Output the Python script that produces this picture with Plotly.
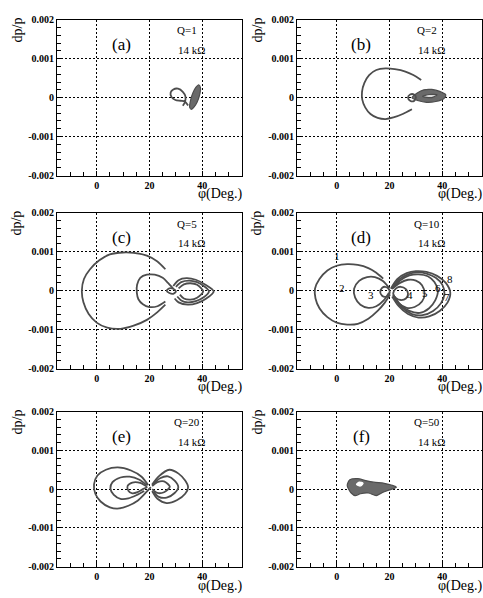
import plotly.graph_objects as go

# ---------------------------------------------------------------------------
# Page geometry (pixels) for the 3 x 2 grid of phase-space panels
# ---------------------------------------------------------------------------
W, H = 483, 598
COLS = [(57, 242), (297, 482)]
ROWS = [(14, 173), (211, 370), (414, 572)]

PANEL_TAGS = ["(a)", "(b)", "(c)", "(d)", "(e)", "(f)"]
Q_VALUES = [1, 2, 5, 10, 20, 50]
RES_TEXT = "14 kΩ"

X_RANGE = [-15, 55]
Y_RANGE = [-0.002, 0.002]
X_TICKS = [0, 20, 40]
Y_TICKS = [-0.002, -0.001, 0, 0.001, 0.002]
Y_TICK_TEXT = ["-0.002", "-0.001", "0", "0.001", "0.002"]

MILLI = 1e-3  # trajectory points below are (phi [deg], dp/p [x 1e-3])

# --- (a) Q = 1 ------------------------------------------------------------
A_LOOP = [(34.6, -0.20), (33.4, -0.10), (31.8, -0.08), (29.8, -0.06), (28.3, 0.02),
          (28.0, 0.13), (29.0, 0.21), (30.8, 0.23), (32.6, 0.15), (33.6, 0.03),
          (33.4, -0.12), (32.6, -0.21)]
A_STREAK = [(35.2, -0.25), (35.6, -0.05), (36.4, 0.12), (37.6, 0.27), (38.6, 0.33),
            (39.3, 0.25), (38.9, 0.05), (38.0, -0.12), (36.9, -0.24), (35.9, -0.30),
            (35.2, -0.25)]

# --- (b) Q = 2 ------------------------------------------------------------
B_OUTER = [(32, 0.45), (29, 0.58), (26, 0.67), (22, 0.73), (18.5, 0.75), (15, 0.71),
           (12.3, 0.58), (10.5, 0.38), (9.6, 0.15), (9.7, -0.05), (10.8, -0.25),
           (12.8, -0.42), (15.5, -0.52), (18.5, -0.55), (21.5, -0.51), (25, -0.42),
           (28.5, -0.30)]
B_CORE = [(28.5, 0.0), (30.5, 0.12), (33, 0.20), (36, 0.21), (39, 0.16), (41.3, 0.07),
          (40.5, -0.03), (37.5, -0.10), (34, -0.12), (31, -0.08), (28.5, 0.0)]
B_HOLE = [(32.5, 0.03), (35, 0.08), (38, 0.07), (36, 0.0), (32.5, 0.03)]
B_SMALL = [(27, 0.0), (27.8, 0.08), (29.3, 0.08), (30, 0.0), (29.2, -0.09),
           (27.8, -0.08), (27, 0.0)]

# --- (c) Q = 5 ------------------------------------------------------------
C_OUTER = [(26, 0.55), (23, 0.75), (19, 0.90), (14, 0.97), (10, 0.98), (5, 0.93),
           (1, 0.78), (-2.5, 0.55), (-4.8, 0.30), (-5.6, 0.0), (-5, -0.30),
           (-3, -0.60), (0, -0.82), (4, -0.95), (9, -0.98), (14, -0.90), (19, -0.75),
           (23, -0.55), (26, -0.36)]
C_INNER = [(29, 0.05), (27, 0.20), (25, 0.33), (22, 0.41), (19, 0.41), (16.5, 0.33),
           (15.3, 0.15), (15.2, -0.05), (15.8, -0.22), (17.5, -0.35), (20, -0.42),
           (23, -0.40), (26, -0.28)]
C_CHEV1 = [(29, 0.12), (31, 0.27), (34, 0.32), (37.5, 0.28), (41, 0.16), (44.3, -0.02),
           (41.5, -0.20), (38, -0.32), (34.5, -0.36), (31, -0.30), (29.5, -0.20)]
C_CHEV2 = [(30, 0.10), (32, 0.22), (35, 0.26), (38, 0.22), (40.5, 0.12), (42.5, -0.02),
           (40.5, -0.17), (37.5, -0.27), (34.5, -0.30), (32, -0.25), (30.5, -0.15)]
C_CHEV3 = [(31, 0.06), (33, 0.16), (35.5, 0.19), (38, 0.15), (40.3, -0.02), (38, -0.18),
           (35.5, -0.23), (33, -0.20), (31.5, -0.10)]
C_SMALL = [(26.5, 0.0), (27.5, 0.06), (29, 0.05), (30, -0.02), (29, -0.08),
           (27.5, -0.06), (26.5, 0.0)]

# --- (d) Q = 10 -----------------------------------------------------------
D_LEFT1 = [(17.6, 0.31), (15, 0.46), (12, 0.58), (8, 0.66), (4, 0.68), (0, 0.64),
           (-3.5, 0.52), (-6.5, 0.30), (-8.2, 0.05), (-8, -0.20), (-6.5, -0.45),
           (-3.5, -0.68), (0, -0.82), (4, -0.87), (8, -0.85), (12, -0.72),
           (15.5, -0.52), (18.3, -0.30), (20.2, -0.10)]
D_LEFT2 = [(20, 0.06), (17.5, 0.25), (14.5, 0.35), (11.5, 0.35), (8.5, 0.25),
           (6.6, 0.05), (7, -0.18), (9, -0.36), (12, -0.44), (15, -0.40),
           (17.8, -0.25), (19.8, -0.05)]
D_LOOP3 = [(16.5, -0.04), (17.2, 0.07), (18.3, 0.10), (19.5, 0.06), (20.1, -0.04),
           (19.5, -0.13), (18.3, -0.16), (17.2, -0.13), (16.5, -0.04)]
D_LOOP4 = [(21.4, -0.07), (22.5, 0.06), (24.3, 0.10), (26.2, 0.04), (27, -0.08),
           (26.2, -0.20), (24.3, -0.24), (22.5, -0.19), (21.4, -0.07)]
D_RIGHT5 = [(21, 0.05), (24, 0.20), (27, 0.28), (30, 0.26), (32.3, 0.14), (33.3, -0.08),
            (32.3, -0.28), (29.5, -0.42), (26.5, -0.44), (23.5, -0.32), (21.3, -0.10)]
D_RIGHT6 = [(21, 0.05), (24, 0.26), (27.5, 0.39), (31, 0.42), (34.5, 0.37), (37, 0.22),
            (38.3, 0.0), (37.3, -0.25), (35, -0.45), (31.5, -0.57), (27.5, -0.52),
            (24, -0.35), (21.5, -0.12)]
D_RIGHT7 = [(20.8, 0.05), (23.5, 0.28), (27, 0.42), (30.5, 0.47), (34, 0.44),
            (37.5, 0.33), (40, 0.15), (40.8, -0.08), (39.5, -0.32), (36.5, -0.52),
            (32.5, -0.63), (28.5, -0.60), (24.5, -0.42), (21.5, -0.15)]
D_RIGHT8 = [(20.5, 0.05), (23, 0.30), (26.5, 0.45), (30, 0.50), (34, 0.48), (38, 0.38),
            (41.3, 0.20), (43, -0.05), (42, -0.30), (39, -0.52), (35, -0.66),
            (31, -0.69), (27, -0.60), (23.5, -0.40), (21, -0.15)]
D_NUMBERS = ["1", "2", "3", "4", "5", "6", "7", "8"]
D_NUMBER_AT = [(0.2, 0.90), (2.0, 0.075), (13.0, -0.11), (27.6, -0.11),
               (33.3, -0.07), (38.5, 0.075), (41.6, -0.17), (42.9, 0.31)]

# --- (e) Q = 20 -----------------------------------------------------------
E_LEFT1 = [(19.5, 0.10), (17, 0.32), (13, 0.48), (8, 0.56), (3.5, 0.50), (0.3, 0.35),
           (-1, 0.12), (-0.5, -0.12), (1.5, -0.32), (5, -0.47), (8.5, -0.50),
           (12, -0.43), (15.5, -0.30), (18.5, -0.10), (20.5, 0.05)]
E_RIGHT1 = [(21, 0.12), (23.5, 0.33), (27.5, 0.50), (31, 0.40), (33.5, 0.22),
            (34.6, 0.05), (33.5, -0.12), (30.5, -0.28), (26.5, -0.36), (23, -0.25),
            (21, -0.05)]
E_LEFT2 = [(19, 0.10), (16, 0.25), (12.5, 0.32), (9, 0.30), (6, 0.18), (5.2, 0.02),
           (6.5, -0.15), (9, -0.25), (12, -0.24), (15, -0.16), (18, -0.05)]
E_RIGHT2 = [(21, 0.10), (24, 0.28), (27, 0.33), (29.5, 0.22), (30.9, 0.05),
            (29.5, -0.10), (26.5, -0.22), (23.5, -0.20), (21.5, -0.06)]
E_RIGHT3 = [(21, 0.08), (23, 0.18), (25.5, 0.20), (27.7, 0.06), (25.5, -0.08),
            (23, -0.10), (21, 0.0)]
E_LEFT3 = [(19, 0.05), (16.5, 0.16), (13.5, 0.17), (11.7, 0.08), (12, -0.04),
           (13.5, -0.11), (15.5, -0.08), (17.5, 0.0), (19, 0.05)]

# --- (f) Q = 50 -----------------------------------------------------------
F_BODY = [(4, 0.10), (5, 0.24), (8, 0.27), (11, 0.22), (14, 0.18), (18, 0.15),
          (21, 0.10), (22.6, 0.05), (20, -0.02), (17, -0.10), (15, -0.17), (12, -0.10),
          (9, -0.12), (7, -0.17), (5.5, -0.10), (4.5, 0.0), (4, 0.10)]
F_HOLE = [(7.5, 0.12), (8.5, 0.18), (10, 0.15), (9, 0.08), (7.5, 0.12)]

# curves drawn as lines / filled patches in each panel
PANEL_LINES = [
    [A_LOOP],
    [B_OUTER, B_SMALL],
    [C_OUTER, C_INNER, C_CHEV1, C_CHEV2, C_CHEV3, C_SMALL],
    [D_LEFT1, D_LEFT2, D_LOOP3, D_LOOP4, D_RIGHT5, D_RIGHT6, D_RIGHT7, D_RIGHT8],
    [E_LEFT1, E_RIGHT1, E_LEFT2, E_RIGHT2, E_RIGHT3, E_LEFT3],
    [],
]
PANEL_FILLS = [
    [(A_STREAK, "#6a6a6a")],
    [(B_CORE, "#6a6a6a"), (B_HOLE, "#d8d8d8")],
    [],
    [],
    [],
    [(F_BODY, "#6a6a6a"), (F_HOLE, "white")],
]

INK = "#4d4d4d"
SERIF = "Liberation Serif"

# text positions inside a panel, in pixels from the panel's top-left corner
TAG_OFF = (64, 25)
Q_OFF = (130, 11)
RES_OFF = (134, 31)
YTITLE_OFF = (-40, 11)
XTITLE_OFF = (163, 178)

fig = go.Figure()
layout = dict(width=W, height=H, margin=dict(l=0, r=0, t=0, b=0),
              paper_bgcolor="white", plot_bgcolor="white", showlegend=False)
annotations = []


def paper_text(text, px, py, size, angle=0):
    return dict(text=text, x=px / W, y=1 - py / H, xref="paper", yref="paper",
                xanchor="center", yanchor="middle", showarrow=False,
                textangle=angle, font=dict(family=SERIF, size=size, color="black"))


for i in range(6):
    r, c = divmod(i, 2)
    s = "" if i == 0 else str(i + 1)
    x0, x1 = COLS[c]
    top, bot = ROWS[r]
    xa, ya = "x" + s, "y" + s

    axis_common = dict(
        showline=True, mirror=True, linecolor="black", linewidth=1,
        ticks="inside", tickcolor="black", tickwidth=1,
        showgrid=True, gridcolor="black", griddash="2px,2px", gridwidth=1,
        zeroline=False, fixedrange=True,
        tickfont=dict(family=SERIF, size=10, color="black", weight="bold"),
    )
    layout["xaxis" + s] = dict(
        axis_common, domain=[x0 / W, x1 / W], range=X_RANGE, anchor=ya,
        tickmode="array", tickvals=X_TICKS, ticktext=[str(v) for v in X_TICKS],
        ticklen=5,
        minor=dict(tickmode="linear", tick0=0, dtick=5, ticks="inside", ticklen=4,
                   tickcolor="black", showgrid=False),
    )
    layout["yaxis" + s] = dict(
        axis_common, domain=[1 - bot / H, 1 - top / H], range=Y_RANGE, anchor=xa,
        tickmode="array", tickvals=Y_TICKS, ticktext=Y_TICK_TEXT, ticklen=6,
        minor=dict(tickmode="linear", tick0=0, dtick=0.0002, ticks="inside",
                   ticklen=4, tickcolor="black", showgrid=False),
    )

    for pts, color in PANEL_FILLS[i]:
        fig.add_trace(go.Scatter(
            x=[p[0] for p in pts], y=[p[1] * MILLI for p in pts],
            mode="lines", fill="toself", fillcolor=color,
            line=dict(color=INK if color != "white" else "white", width=1.2,
                      shape="spline", smoothing=0.8),
            xaxis=xa, yaxis=ya, hoverinfo="skip"))
    for pts in PANEL_LINES[i]:
        fig.add_trace(go.Scatter(
            x=[p[0] for p in pts], y=[p[1] * MILLI for p in pts],
            mode="lines",
            line=dict(color=INK, width=1.8, shape="spline", smoothing=0.8),
            xaxis=xa, yaxis=ya, hoverinfo="skip"))

    annotations += [
        paper_text(PANEL_TAGS[i], x0 + TAG_OFF[0], top + TAG_OFF[1], 17),
        paper_text("Q=%d" % Q_VALUES[i], x0 + Q_OFF[0], top + Q_OFF[1], 11),
        paper_text(RES_TEXT, x0 + RES_OFF[0], top + RES_OFF[1], 11),
        paper_text("dp/p", x0 + YTITLE_OFF[0], top + YTITLE_OFF[1], 14, -90),
        paper_text("φ(Deg.)", x0 + XTITLE_OFF[0], top + XTITLE_OFF[1], 14),
    ]

# numbered trajectories in panel (d)
for label, (px, py) in zip(D_NUMBERS, D_NUMBER_AT):
    annotations.append(dict(text=label, x=px, y=py * MILLI, xref="x4", yref="y4",
                            showarrow=False,
                            font=dict(family=SERIF, size=11, color="black")))

layout["annotations"] = annotations
fig.update_layout(layout)
fig.write_html("out.html")
